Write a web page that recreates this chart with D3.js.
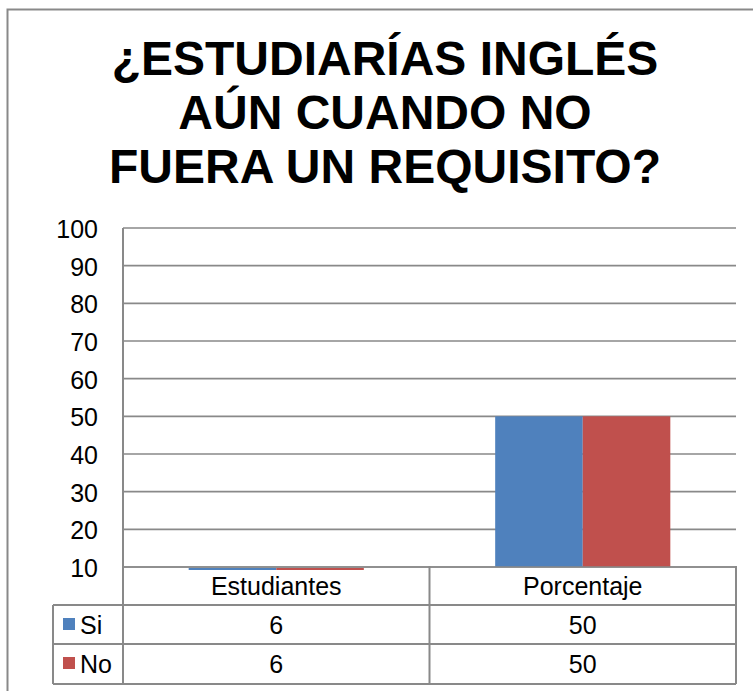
<!DOCTYPE html>
<html><head><meta charset="utf-8">
<script src="https://cdn.jsdelivr.net/npm/d3@7"></script>
<style>html,body{margin:0;padding:0;background:#fff;}svg{display:block;}</style>
</head><body>
<script>
const titleLines = ["¿ESTUDIARÍAS INGLÉS", "AÚN CUANDO NO", "FUERA UN REQUISITO?"];
const categories = ["Estudiantes", "Porcentaje"];
const seriesNames = ["Si", "No"];
const siValues = [6, 50];
const noValues = [6, 50];
const seriesColors = ["#4F81BD", "#C0504D"];
const yTicks = [10, 20, 30, 40, 50, 60, 70, 80, 90, 100];
const yDomain = [10, 100];

(function () {
const W = 753, H = 691;
const svg = d3.select("body").append("svg").attr("width", W).attr("height", H);
const font = "'Liberation Sans', Arial, sans-serif";
const grey = "#898989";
const fs = 25;

// outer frame (extends beyond page right/bottom)
svg.append("path").attr("d", `M7.5,${H+5} V9.5 H${W+5}`)
  .attr("fill", "none").attr("stroke", grey).attr("stroke-width", 2);

// title
const title = svg.append("text").attr("font-family", font).attr("font-weight", "bold")
  .attr("font-size", 48).attr("text-anchor", "middle").attr("fill", "#000");
titleLines.forEach((t, i) => {
  title.append("tspan").attr("x", 385).attr("y", 75 + i * 54).text(t);
});

const pLeft = 123, pRight = 736, pTop = 228, pBase = 567;
const x0 = d3.scaleBand().domain(categories).range([pLeft, pRight]).padding(0);
const x1 = d3.scaleBand().domain(seriesNames).range([0, x0.bandwidth()]).paddingInner(0).paddingOuter(0.75);
const y = d3.scaleLinear().domain(yDomain).range([pBase, pTop]);

// gridlines
svg.append("g").selectAll("line").data(yTicks).join("line")
  .attr("x1", pLeft).attr("x2", pRight)
  .attr("y1", d => y(d)).attr("y2", d => y(d))
  .attr("stroke", grey).attr("stroke-width", 1.6);

// y labels
svg.append("g").selectAll("text").data(yTicks).join("text")
  .attr("x", 98).attr("y", d => y(d) + 10)
  .attr("text-anchor", "end").attr("font-family", font).attr("font-size", fs)
  .attr("fill", "#000").text(d => d);

// clip for bars
svg.append("clipPath").attr("id", "pc").append("rect")
  .attr("x", pLeft).attr("y", pTop).attr("width", pRight - pLeft).attr("height", pBase - pTop + 3);

const seriesData = [siValues, noValues];
const barData = [];
categories.forEach((c, ci) => {
  seriesNames.forEach((s, si) => {
    barData.push({c, s, v: seriesData[si][ci], color: seriesColors[si]});
  });
});
svg.append("g").attr("clip-path", "url(#pc)").selectAll("rect").data(barData).join("rect")
  .attr("x", d => x0(d.c) + x1(d.s))
  .attr("width", x1.bandwidth())
  .attr("y", d => d.v >= yDomain[0] ? y(d.v) : y(yDomain[0]) + 1)
  .attr("height", d => Math.abs(y(d.v) - y(yDomain[0])))
  .attr("fill", d => d.color);

// redraw baseline on top
svg.append("line").attr("x1", pLeft).attr("x2", pRight).attr("y1", y(10)).attr("y2", y(10))
  .attr("stroke", grey).attr("stroke-width", 1.6);

// data table
const rowTop = [566, 605, 644, 684];
const tbl = svg.append("g").attr("stroke", grey).attr("stroke-width", 2).attr("fill", "none");
tbl.append("line").attr("x1", pLeft).attr("x2", pLeft).attr("y1", pTop).attr("y2", rowTop[3]);
tbl.append("line").attr("x1", x0(categories[1])).attr("x2", x0(categories[1])).attr("y1", rowTop[0]).attr("y2", rowTop[3]);
tbl.append("line").attr("x1", pRight).attr("x2", pRight).attr("y1", rowTop[0]).attr("y2", rowTop[3]);
tbl.append("line").attr("x1", 53).attr("x2", 53).attr("y1", rowTop[1]).attr("y2", rowTop[3]);
tbl.append("line").attr("x1", 53).attr("x2", pRight).attr("y1", rowTop[1]).attr("y2", rowTop[1]);
tbl.append("line").attr("x1", 53).attr("x2", pRight).attr("y1", rowTop[2]).attr("y2", rowTop[2]);
tbl.append("line").attr("x1", 53).attr("x2", pRight).attr("y1", rowTop[3]).attr("y2", rowTop[3]);

// header texts
svg.append("g").selectAll("text").data(categories).join("text")
  .attr("x", d => x0(d) + x0.bandwidth() / 2).attr("y", rowTop[0] + 29)
  .attr("text-anchor", "middle").attr("font-family", font).attr("font-size", fs)
  .attr("fill", "#000").text(d => d);

// rows
seriesNames.forEach((s, si) => {
  const ry = rowTop[si + 1];
  svg.append("rect").attr("x", 63).attr("y", ry + 13).attr("width", 12).attr("height", 12)
    .attr("fill", seriesColors[si]);
  svg.append("text").attr("x", 80).attr("y", ry + 29).attr("font-family", font)
    .attr("font-size", fs).attr("fill", "#000").text(s);
  svg.append("g").selectAll("text").data(categories).join("text")
    .attr("x", d => x0(d) + x0.bandwidth() / 2).attr("y", ry + 29)
    .attr("text-anchor", "middle").attr("font-family", font).attr("font-size", fs)
    .attr("fill", "#000").text((d, ci) => seriesData[si][ci]);
});
})();
</script>
</body></html>
